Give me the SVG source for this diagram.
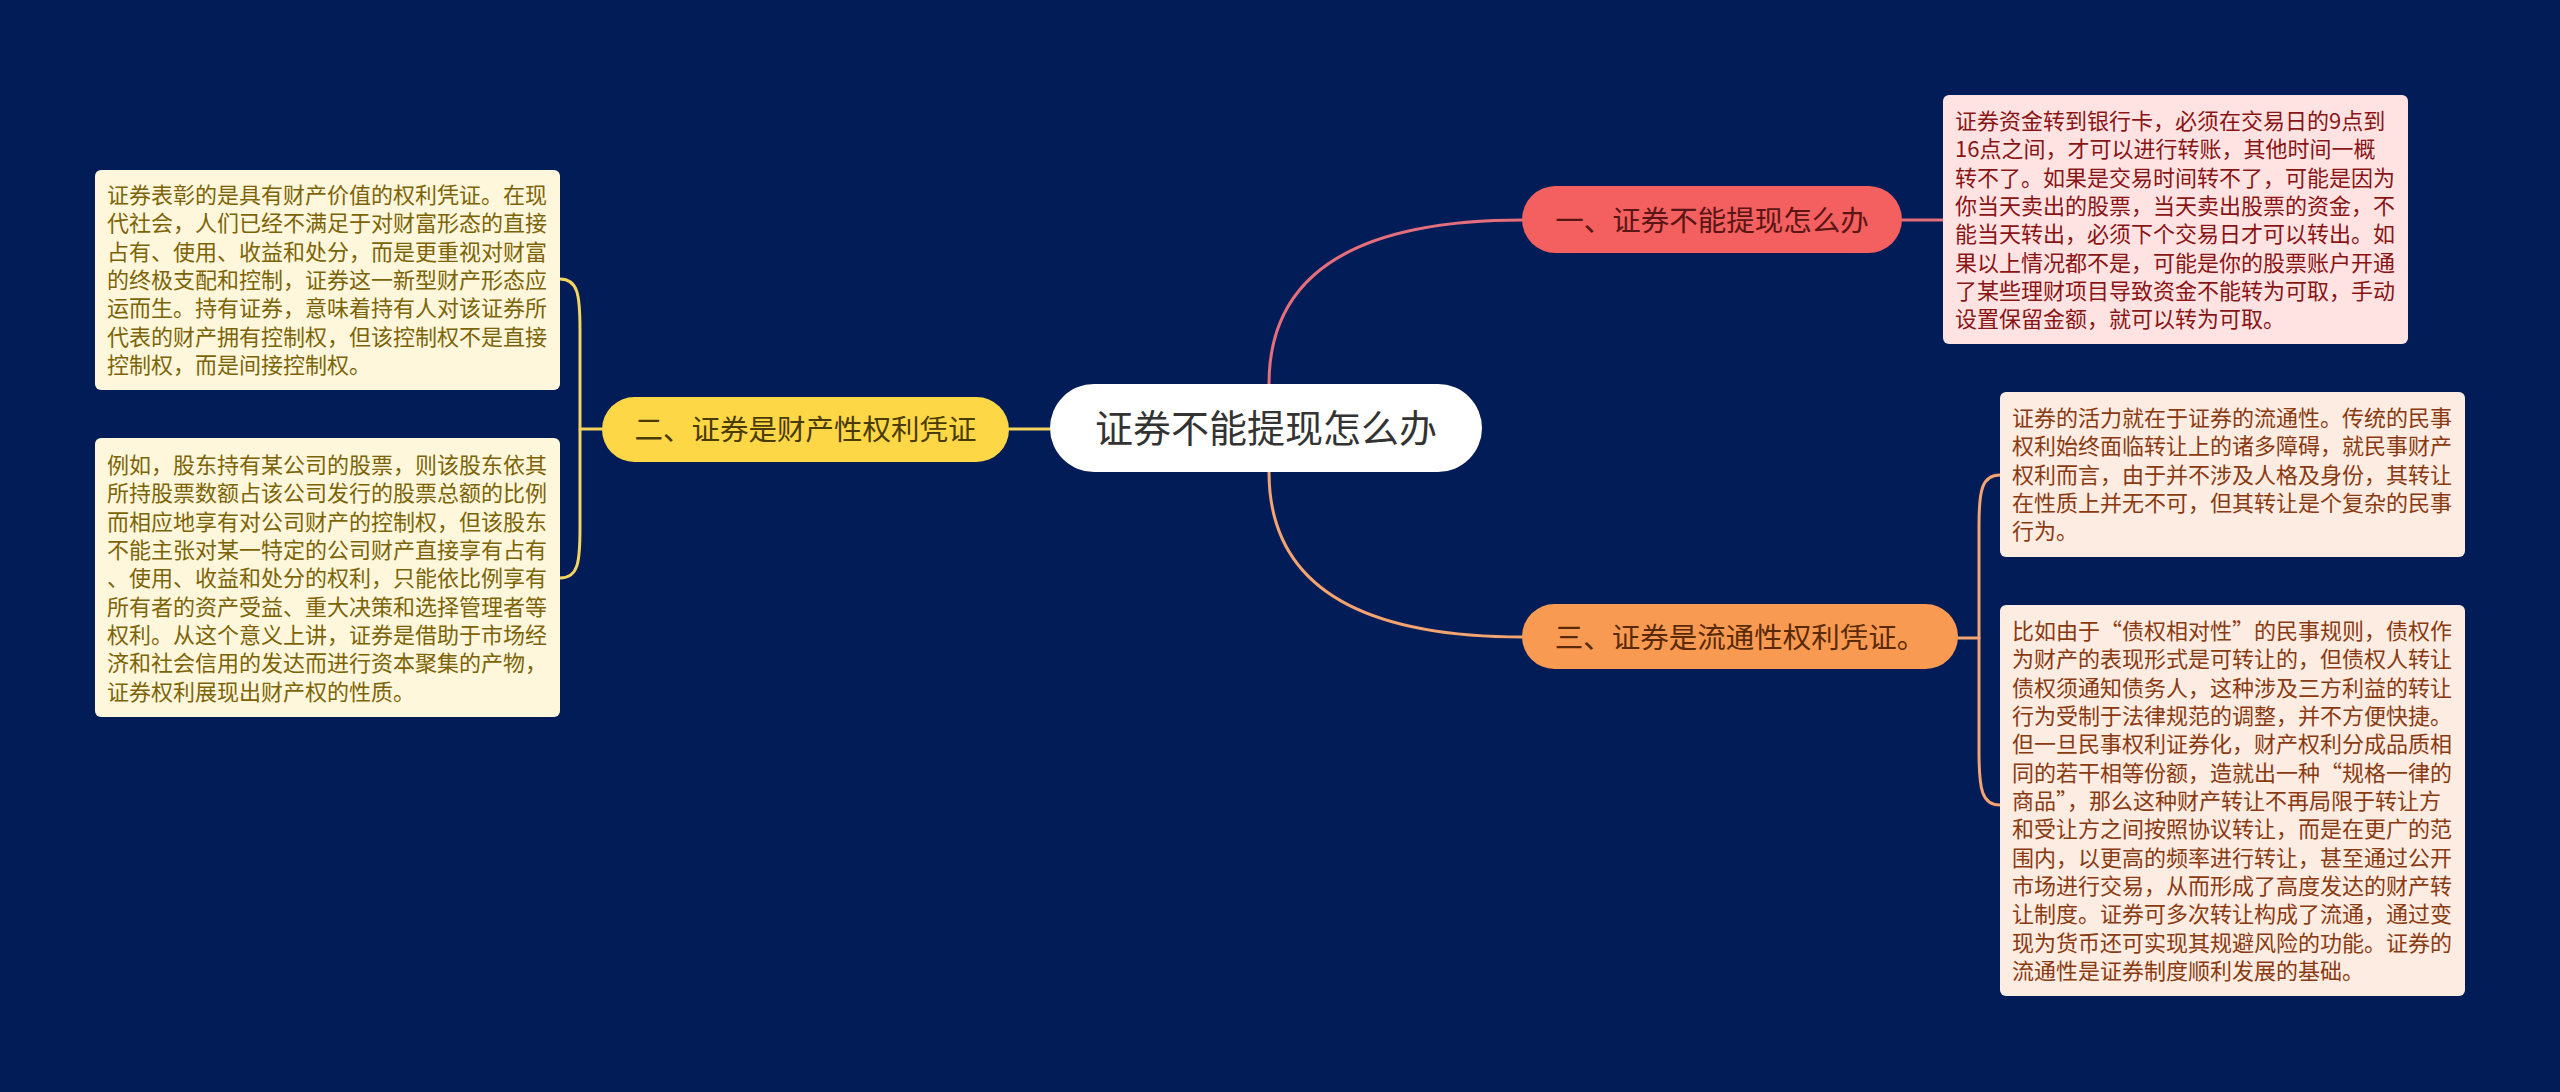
<svg xmlns="http://www.w3.org/2000/svg" width="2560" height="1092" viewBox="0 0 2560 1092">
<style>
text{font-family:"Noto Sans CJK SC","Noto Sans",sans-serif;}
.c{fill:none;stroke-width:3;stroke-linecap:round}
.pk{stroke:#E46E7B}
.yl{stroke:#F5D45E}
.or{stroke:#F3A470}
.t{font-size:22px}
.lt{fill:#7C6406}
.rt{fill:#8A1414}
.rb{fill:#8A3A10}
.n{font-size:28.5px;text-anchor:middle}
</style>
<rect width="2560" height="1092" fill="#011C57"/>
<g id="connectors">
<path class="c pk" d="M1269,384 Q1269,220 1523,220"/>
<path class="c pk" d="M1902,220 L1943,220"/>
<path class="c or" d="M1269,472 Q1269,637 1523,637"/>
<path class="c or" d="M1957,638 L1979,638"/>
<path class="c or" d="M2000,475 C1982,475 1979,490 1979,525 L1979,752 C1979,790 1982,805 2000,805"/>
<path class="c yl" d="M1009,429 L1050,429"/>
<path class="c yl" d="M602,429 L580,429"/>
<path class="c yl" d="M560,279 C578,279 580,295 580,330 L580,528 C580,563 578,578 560,578"/>
</g>
<g id="center">
<rect x="1050" y="384" width="432" height="88" rx="44" fill="#FFFFFF"/>
<text x="1266" y="442" font-size="38" text-anchor="middle" fill="#333333">证券不能提现怎么办</text>
</g>
<g id="node1">
<rect x="1522" y="186" width="380" height="67" rx="33.5" fill="#F45F5F"/>
<text class="n" x="1712" y="231" fill="#5A1515">一、证券不能提现怎么办</text>
</g>
<g id="node2">
<rect x="602" y="397" width="407" height="65" rx="32.5" fill="#FDD745"/>
<text class="n" x="805.5" y="440" fill="#4A3B05">二、证券是财产性权利凭证</text>
</g>
<g id="node3">
<rect x="1522" y="604" width="436" height="65" rx="32.5" fill="#F99A52"/>
<text class="n" x="1740" y="648" fill="#5A2A08">三、证券是流通性权利凭证。</text>
</g>
<g id="box-right-top">
<rect x="1943" y="95" width="465" height="249" rx="6" fill="#FFE3E3"/>
<text class="t rt">
<tspan x="1955" y="129">证券资金转到银行卡，必须在交易日的9点到</tspan>
<tspan x="1955" y="157.3">16点之间，才可以进行转账，其他时间一概</tspan>
<tspan x="1955" y="185.7">转不了。如果是交易时间转不了，可能是因为</tspan>
<tspan x="1955" y="214">你当天卖出的股票，当天卖出股票的资金，不</tspan>
<tspan x="1955" y="242.3">能当天转出，必须下个交易日才可以转出。如</tspan>
<tspan x="1955" y="270.7">果以上情况都不是，可能是你的股票账户开通</tspan>
<tspan x="1955" y="299">了某些理财项目导致资金不能转为可取，手动</tspan>
<tspan x="1955" y="327.3">设置保留金额，就可以转为可取。</tspan>
</text>
</g>
<g id="box-right-mid">
<rect x="2000" y="392" width="465" height="165" rx="6" fill="#FDECE2"/>
<text class="t rb">
<tspan x="2012" y="426">证券的活力就在于证券的流通性。传统的民事</tspan>
<tspan x="2012" y="454.3">权利始终面临转让上的诸多障碍，就民事财产</tspan>
<tspan x="2012" y="482.7">权利而言，由于并不涉及人格及身份，其转让</tspan>
<tspan x="2012" y="511">在性质上并无不可，但其转让是个复杂的民事</tspan>
<tspan x="2012" y="539.3">行为。</tspan>
</text>
</g>
<g id="box-right-bottom">
<rect x="2000" y="605" width="465" height="391" rx="6" fill="#FDECE2"/>
<text class="t rb">
<tspan x="2012" y="639">比如由于“债权相对性”的民事规则，债权作</tspan>
<tspan x="2012" y="667.3">为财产的表现形式是可转让的，但债权人转让</tspan>
<tspan x="2012" y="695.7">债权须通知债务人，这种涉及三方利益的转让</tspan>
<tspan x="2012" y="724">行为受制于法律规范的调整，并不方便快捷。</tspan>
<tspan x="2012" y="752.3">但一旦民事权利证券化，财产权利分成品质相</tspan>
<tspan x="2012" y="780.7">同的若干相等份额，造就出一种“规格一律的</tspan>
<tspan x="2012" y="809">商品”，那么这种财产转让不再局限于转让方</tspan>
<tspan x="2012" y="837.3">和受让方之间按照协议转让，而是在更广的范</tspan>
<tspan x="2012" y="865.7">围内，以更高的频率进行转让，甚至通过公开</tspan>
<tspan x="2012" y="894">市场进行交易，从而形成了高度发达的财产转</tspan>
<tspan x="2012" y="922.3">让制度。证券可多次转让构成了流通，通过变</tspan>
<tspan x="2012" y="950.7">现为货币还可实现其规避风险的功能。证券的</tspan>
<tspan x="2012" y="979">流通性是证券制度顺利发展的基础。</tspan>
</text>
</g>
<g id="box-left-top">
<rect x="95" y="170" width="465" height="220" rx="6" fill="#FFF7DC"/>
<text class="t lt">
<tspan x="107" y="203">证券表彰的是具有财产价值的权利凭证。在现</tspan>
<tspan x="107" y="231.3">代社会，人们已经不满足于对财富形态的直接</tspan>
<tspan x="107" y="259.7">占有、使用、收益和处分，而是更重视对财富</tspan>
<tspan x="107" y="288">的终极支配和控制，证券这一新型财产形态应</tspan>
<tspan x="107" y="316.3">运而生。持有证券，意味着持有人对该证券所</tspan>
<tspan x="107" y="344.7">代表的财产拥有控制权，但该控制权不是直接</tspan>
<tspan x="107" y="373">控制权，而是间接控制权。</tspan>
</text>
</g>
<g id="box-left-bottom">
<rect x="95" y="438" width="465" height="279" rx="6" fill="#FFF7DC"/>
<text class="t lt">
<tspan x="107" y="473">例如，股东持有某公司的股票，则该股东依其</tspan>
<tspan x="107" y="501.3">所持股票数额占该公司发行的股票总额的比例</tspan>
<tspan x="107" y="529.7">而相应地享有对公司财产的控制权，但该股东</tspan>
<tspan x="107" y="558">不能主张对某一特定的公司财产直接享有占有</tspan>
<tspan x="107" y="586.3">、使用、收益和处分的权利，只能依比例享有</tspan>
<tspan x="107" y="614.7">所有者的资产受益、重大决策和选择管理者等</tspan>
<tspan x="107" y="643">权利。从这个意义上讲，证券是借助于市场经</tspan>
<tspan x="107" y="671.3">济和社会信用的发达而进行资本聚集的产物，</tspan>
<tspan x="107" y="699.7">证券权利展现出财产权的性质。</tspan>
</text>
</g>
</svg>
